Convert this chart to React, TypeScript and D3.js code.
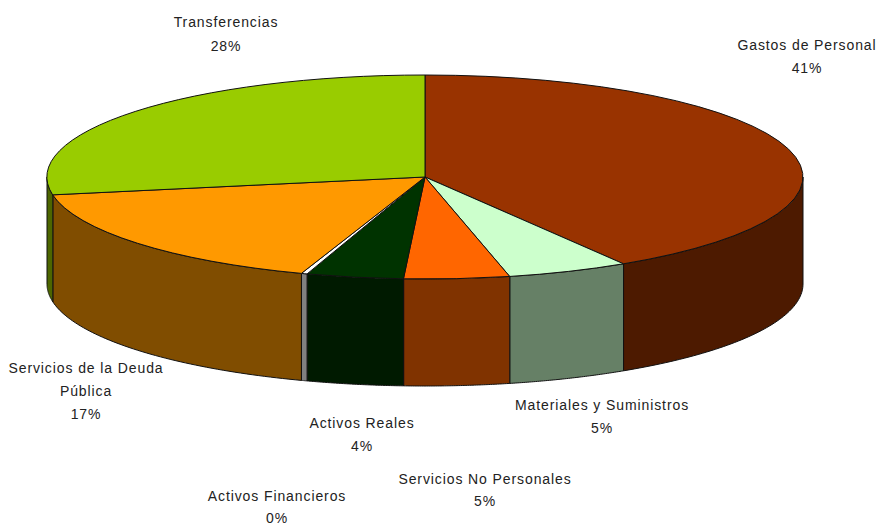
import React from "react";
import * as d3 from "d3";

const categories = ["Gastos de Personal", "Materiales y Suministros", "Servicios No Personales", "Activos Reales", "Activos Financieros", "Servicios de la Deuda Pública", "Transferencias"];
const values = [41.2, 5.2, 4.5, 4.15, 0.25, 16.9, 27.8];
const topColors = ["#993300", "#CCFFCC", "#FF6600", "#003300", "#FFFFFF", "#FF9900", "#99CC00"];
const sideColors = ["#4D1A00", "#668066", "#803300", "#001A00", "#808080", "#804D00", "#4D6600"];
const labelLines = [["Gastos de Personal"], ["Materiales y Suministros"], ["Servicios No Personales"], ["Activos Reales"], ["Activos Financieros"], ["Servicios de la Deuda", "Pública"], ["Transferencias"]];
const labelX = [807, 602, 485, 362, 277, 86, 226];
const labelY = [50, 410, 484, 428, 501, 373, 27];
const lineGap = [23, 23, 22, 23, 22, 23, 24];

const W = 879, H = 523, cx = 425, cy = 177, rx = 378, ry = 102, depth = 107;

export default function App() {
  const arcs = d3.pie<number>().sort(null)(values);
  const arcGen = d3.arc<d3.PieArcDatum<number>>().innerRadius(0).outerRadius(1);
  const px = (t: number) => cx + rx * Math.sin(t);
  const py = (t: number) => cy - ry * Math.cos(t);
  const side = d3.area<number>().x(px).y0(py).y1((t) => py(t) + depth);
  const lo = Math.PI / 2, hi = (3 * Math.PI) / 2;
  return (
    <svg width={W} height={H} style={{ position: "absolute", left: 0, top: 0, background: "#fff" }}>
      {arcs.map((a, i) => {
        const s = Math.max(a.startAngle, lo), e = Math.min(a.endAngle, hi);
        if (e <= s) return null;
        const ts = d3.range(0, 61).map((k) => s + ((e - s) * k) / 60);
        return <path key={i} d={side(ts) ?? ""} fill={sideColors[i]} stroke="#111" strokeWidth={1} strokeLinejoin="round" />;
      })}
      {arcs.map((a, i) => (
        <path key={i} d={arcGen(a) ?? ""} transform={`translate(${cx},${cy}) scale(${rx},${ry})`} fill={topColors[i]} stroke="#111" strokeWidth={1} vectorEffect="non-scaling-stroke" />
      ))}
      <g fontFamily="'Liberation Sans', Arial, sans-serif" fontSize={14} fill="#222" textAnchor="middle" letterSpacing={0.9}>
        {categories.map((c, i) => {
          const lines = [...labelLines[i], `${Math.round(values[i])}%`];
          return (
            <text key={c}>
              {lines.map((l, j) => (
                <tspan key={j} x={labelX[i]} y={labelY[i] + j * lineGap[i]}>{l}</tspan>
              ))}
            </text>
          );
        })}
      </g>
    </svg>
  );
}
